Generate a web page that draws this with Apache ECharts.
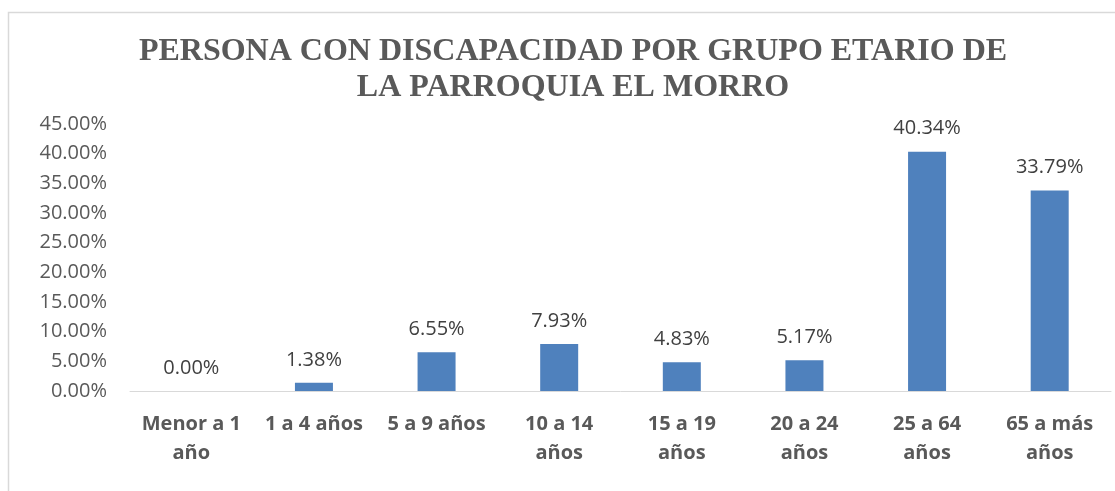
<!DOCTYPE html>
<html>
<head>
<meta charset="utf-8">
<script src="https://cdn.jsdelivr.net/npm/echarts@6/dist/echarts.min.js"></script>
<style>
  html, body { margin: 0; padding: 0; background: #fff; }
  #chart { width: 1115px; height: 491px; }
</style>
</head>
<body>
<div id="chart"></div>
<script>
// datos
const titleLines = ['PERSONA CON DISCAPACIDAD POR GRUPO ETARIO DE', 'LA PARROQUIA EL MORRO']
const categories = ['Menor a 1\naño', '1 a 4 años', '5 a 9 años', '10 a 14\naños', '15 a 19\naños', '20 a 24\naños', '25 a 64\naños', '65 a más\naños']
const values = [0.00, 1.38, 6.55, 7.93, 4.83, 5.17, 40.34, 33.79]
const yTicks = [0, 5, 10, 15, 20, 25, 30, 35, 40, 45]

const labelFont = '"Open Sans", sans-serif'
const myChart = echarts.init(document.getElementById('chart'))

const option = {
  animation: false,
  title: {
    text: titleLines.join('\n'),
    left: 568,
    textAlign: 'center',
    top: 29,
    textStyle: {
      fontFamily: '"Liberation Serif", serif',
      fontWeight: 'bold',
      fontSize: 32,
      lineHeight: 36,
      color: '#595959'
    }
  },
  graphic: [
    {
      type: 'rect',
      silent: true,
      shape: { x: 8.5, y: 12.5, width: 1120, height: 500 },
      style: { fill: null, stroke: '#d9d9d9', lineWidth: 1.5 }
    }
  ],
  grid: {
    left: 130,
    right: 4,
    top: 124,
    bottom: 100
  },
  xAxis: {
    type: 'category',
    data: categories,
    axisLine: { lineStyle: { color: '#d9d9d9', width: 1 } },
    axisTick: { show: false },
    axisLabel: {
      interval: 0,
      margin: 19,
      fontFamily: labelFont,
      fontWeight: 'bold',
      fontSize: 20,
      lineHeight: 29,
      color: '#595959'
    }
  },
  yAxis: {
    type: 'value',
    min: yTicks[0],
    max: yTicks[yTicks.length - 1],
    interval: 5,
    splitLine: { show: false },
    axisLine: { show: false },
    axisTick: { show: false },
    axisLabel: {
      margin: 23,
      fontFamily: labelFont,
      fontSize: 20,
      color: '#595959',
      formatter (v) {
        return v.toFixed(2) + '%'
      }
    }
  },
  series: [
    {
      type: 'bar',
      data: values,
      barWidth: 38,
      silent: true,
      itemStyle: {
        color: '#4f81bd'
      },
      label: {
        show: true,
        position: 'top',
        distance: 13,
        fontFamily: labelFont,
        fontSize: 20,
        color: '#404040',
        formatter (item) {
          return item.value.toFixed(2) + '%'
        }
      }
    }
  ]
}

myChart.setOption(option)
</script>
</body>
</html>
